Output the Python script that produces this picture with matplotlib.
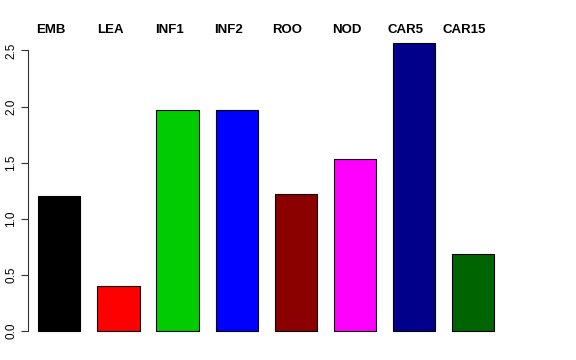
import matplotlib.pyplot as plt
import matplotlib.transforms as mtransforms
import numpy as np

plt.rcParams["font.family"] = ["Liberation Sans", "DejaVu Sans"]

# data
labels = ["EMB", "LEA", "INF1", "INF2", "ROO", "NOD", "CAR5", "CAR15"]
values = [1.20, 0.40, 1.97, 1.97, 1.224, 1.53, 2.57, 0.69]
colors = ["black", "red", "#00CD00", "blue", "#8B0000", "magenta", "#00008B", "#006400"]
yticks = [0.0, 0.5, 1.0, 1.5, 2.0, 2.5]

# R barplot style layout: width 1, space 0.4
n = len(values)
lefts = 0.4 + 1.4 * np.arange(n)
centers = lefts + 0.5

fig = plt.figure(figsize=(5.76, 3.6), dpi=100)
ax = fig.add_axes([21.4 / 576, 0.0486, 490.9 / 576, 0.865])

ax.bar(centers, values, width=1.0, color=colors, edgecolor="black", linewidth=0.8)

ax.set_xlim(0, 11.632)
ax.set_ylim(-0.1028, 2.6728)

for s in ["top", "right", "bottom"]:
    ax.spines[s].set_visible(False)
ax.spines["left"].set_position(("data", 0.16))
ax.spines["left"].set_bounds(0, 2.5)
ax.spines["left"].set_linewidth(0.8)
ax.spines["left"].set_color("#333333")
ax.set_xticks([])
ax.set_yticks(yticks)
ax.set_yticklabels([f"{t:.1f}" for t in yticks], rotation=90, va="center",
                   fontsize=8.5)
ax.tick_params(axis="y", length=5, width=0.8, pad=3, color="#333333")

# column labels across the top, shifted a little left of each bar
trans = mtransforms.blended_transform_factory(ax.transData, fig.transFigure)
for c, lab in zip(centers, labels):
    ax.text(c - 0.2, 1 - 30 / 360, lab, transform=trans,
            fontsize=9.5, fontweight="bold", ha="center", va="center")

fig.savefig("out.png", dpi=100)
